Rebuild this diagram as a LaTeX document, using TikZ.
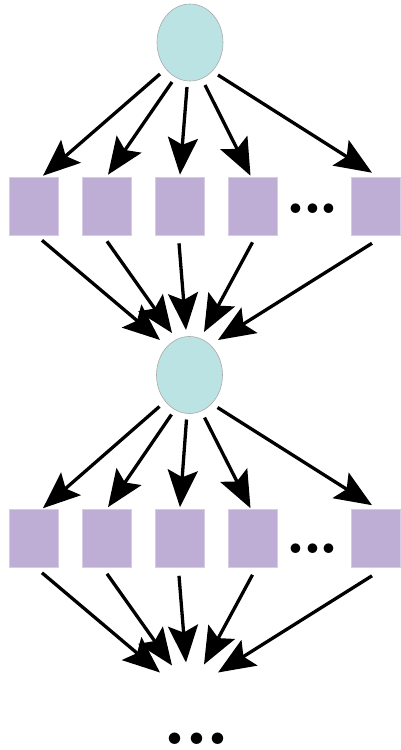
\documentclass[tikz,border=0pt]{standalone}
\usetikzlibrary{arrows.meta,shapes.geometric}
\definecolor{hubfill}{HTML}{BCE3E4}
\definecolor{hubedge}{HTML}{A9A9A9}
\definecolor{unitfill}{HTML}{BEAED6}
\definecolor{unitedge}{HTML}{D6CCE6}
\begin{document}
\begin{tikzpicture}[x=1pt,y=-1pt,
  hub/.style={ellipse, draw=hubedge, line width=0.6pt, fill=hubfill,
    minimum width=66pt, minimum height=77pt, inner sep=0pt},
  unit/.style={rectangle, draw=unitedge, line width=0.6pt, fill=unitfill,
    minimum width=49pt, minimum height=58pt, inner sep=0pt},
  link/.style={line width=3.3pt, -{Stealth[length=37pt,width=30pt,inset=7pt]}},
  more/.style={inner sep=0pt, anchor=base}
]
\useasboundingbox (0,0) rectangle (400,750);

% hub nodes and the point where the next layer would sit
\node[hub] (h1) at (190,42.5) {};
\node[hub] (h2) at (189.5,375) {};
\coordinate (h3) at (189.5,707.5);

% two layers of units
\foreach \i/\x in {1/34,2/107,3/180,4/252.5,5/375.5} {
  \node[unit] (a\i) at (\x,206) {};
  \node[unit] (b\i) at (\x,538.5) {};
}

% ellipses
\node[more, font=\bfseries\fontsize{67}{67}\selectfont] (gapa) at (312.5,213) {.\kern-4.4pt.\kern-4.4pt.};
\node[more, font=\bfseries\fontsize{67}{67}\selectfont] (gapb) at (312.5,553) {.\kern-4.4pt.\kern-4.4pt.};
\node[more, font=\bfseries\fontsize{80}{80}\selectfont] (gapc) at (196.5,744) {.\kern-4pt.\kern-4pt.};

% fan-out: hub to units
\foreach \i/\sx/\sy/\tx/\ty in {1/-30/31.5/9/-1, 2/-18/39.5/1/-2, 3/-3/44.5/0/-2, 4/15/42.5/-2/-1, 5/28/32.5/-3.5/-4} {
  \draw[link] ([shift={(\sx,\sy)}]h1.center) -- ([shift={(\tx,\ty)}]a\i.north);
  \draw[link] ([shift={(\sx,\sy)}]h2.center) -- ([shift={(\tx,\ty)}]b\i.north);
}

% fan-in: units to next hub
\foreach \i/\sx/\sy/\tx/\ty in {1/8/5/-29.5/-35, 2/0/6/-17.5/-42, 3/-1/8/-3.5/-45, 4/0/7/14.5/-43, 5/-3.5/8/28.5/-35} {
  \draw[link] ([shift={(\sx,\sy)}]a\i.south) -- ([shift={(\tx,\ty)}]h2.center);
  \draw[link] ([shift={(\sx,\sy)}]b\i.south) -- ([shift={(\tx,\ty)}]h3);
}
\end{tikzpicture}
\end{document}
